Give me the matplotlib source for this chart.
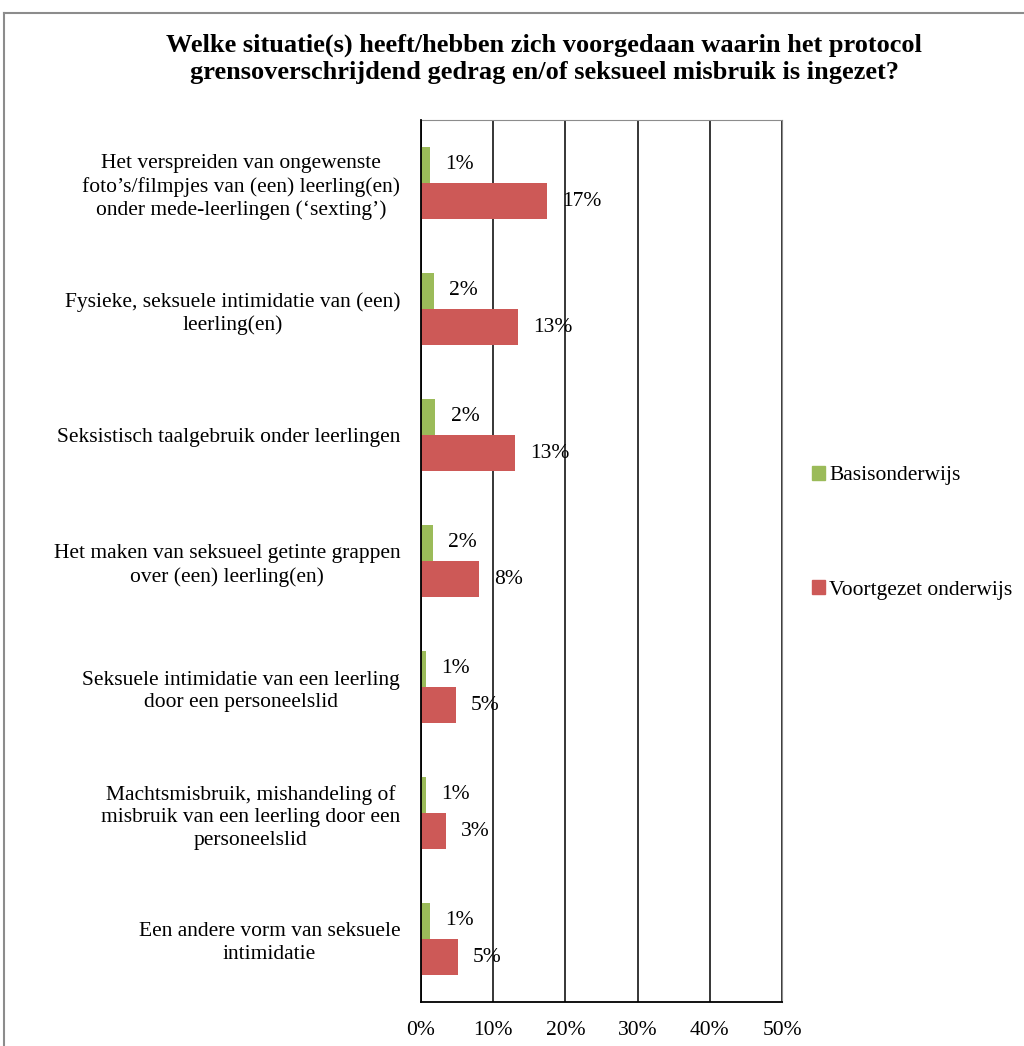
import matplotlib.pyplot as plt
import numpy as np
from matplotlib.lines import Line2D
from matplotlib.patches import Patch

# data (percentages)
categories = [
    "Het verspreiden van ongewenste\nfoto\u2019s/filmpjes van (een) leerling(en)\nonder mede-leerlingen (\u2018sexting\u2019)",
    "Fysieke, seksuele intimidatie van (een)\nleerling(en)",
    "Seksistisch taalgebruik onder leerlingen",
    "Het maken van seksueel getinte grappen\nover (een) leerling(en)",
    "Seksuele intimidatie van een leerling\ndoor een personeelslid",
    "Machtsmisbruik, mishandeling of\nmisbruik van een leerling door een\npersoneelslid",
    "Een andere vorm van seksuele\nintimidatie",
]
basis = [1.2, 1.8, 2.0, 1.6, 0.7, 0.7, 1.2]
voortgezet = [17.4, 13.4, 13.0, 8.0, 4.8, 3.4, 5.1]
series_names = ["Basisonderwijs", "Voortgezet onderwijs"]
ticks = [0, 10, 20, 30, 40, 50]

green = "#9BBB59"
red = "#CD5957"
fs = 15.5
plt.rcParams["font.family"] = ["Liberation Serif", "DejaVu Serif"]

fig = plt.figure(figsize=(10.24, 10.46), dpi=100)
ax = fig.add_axes([421 / 1024, 44 / 1046, 361 / 1024, 882 / 1046])

y = np.arange(len(categories))
h = 0.286
ax.barh(y - h / 2, basis, height=h, color=green, zorder=3)
ax.barh(y + h / 2, voortgezet, height=h, color=red, zorder=3)

for yi, v in zip(y, basis):
    ax.annotate(f"{round(v)}%", (v, yi - h / 2), xytext=(11, 0), textcoords="offset points",
                va="center", ha="left", fontsize=fs)
for yi, v in zip(y, voortgezet):
    ax.annotate(f"{round(v)}%", (v, yi + h / 2), xytext=(11, 0), textcoords="offset points",
                va="center", ha="left", fontsize=fs)

ax.set_xlim(0, 50)
ax.set_ylim(len(categories) - 0.5, -0.5)
ax.set_xticks(ticks)
ax.set_xticklabels([f"{t}%" for t in ticks], fontsize=fs)
ax.set_yticks(y)
ax.set_yticklabels(categories, fontsize=fs, multialignment="center", linespacing=1.25)
ax.tick_params(axis="both", length=0)
ax.tick_params(axis="x", pad=14)
ax.tick_params(axis="y", pad=15)
ax.xaxis.grid(True, color="black", linewidth=1.1, zorder=0)
ax.set_axisbelow(True)
ax.spines["left"].set_color("black")
ax.spines["left"].set_linewidth(1.3)
ax.spines["left"].set_zorder(4)
ax.spines["bottom"].set_color("black")
ax.spines["bottom"].set_linewidth(1.3)
ax.spines["top"].set_color("#8c8c8c")
ax.spines["right"].set_color("#8c8c8c")

fig.text(544 / 1024, 1 - 59 / 1046,
         "Welke situatie(s) heeft/hebben zich voorgedaan waarin het protocol\n"
         "grensoverschrijdend gedrag en/of seksueel misbruik is ingezet?",
         ha="center", va="center", fontsize=19, fontweight="bold", linespacing=1.2)

handles = [Patch(color=green), Patch(color=red)]
fig.legend(handles, series_names, loc="upper left", bbox_to_anchor=(812 / 1024, 1 - 466 / 1046),
           frameon=False, fontsize=fs, handlelength=0.6, handleheight=0.6,
           handletextpad=0.2, labelspacing=4.4, borderpad=0, borderaxespad=0)

# outer chart border
fig.add_artist(Line2D([4 / 1024, 4 / 1024], [0, 1 - 13 / 1046], color="#8c8c8c", linewidth=1.5))
fig.add_artist(Line2D([4 / 1024, 1], [1 - 13 / 1046, 1 - 13 / 1046], color="#8c8c8c", linewidth=1.5))

fig.savefig("out.png", dpi=100, facecolor="white")
